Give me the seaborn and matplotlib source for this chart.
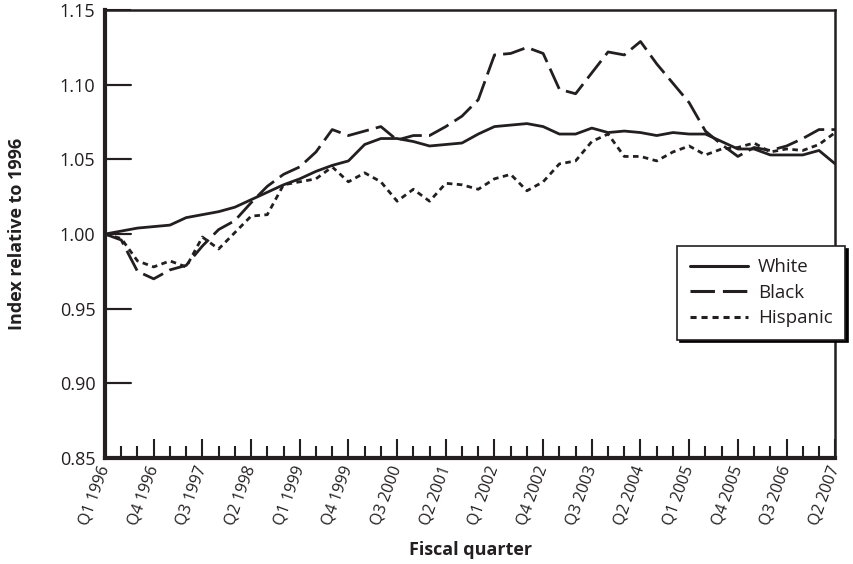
import numpy as np
import pandas as pd
import matplotlib
matplotlib.use("Agg")
import matplotlib.pyplot as plt
from matplotlib.ticker import MultipleLocator, FuncFormatter
import seaborn as sns

# index values per fiscal quarter, Q1 1996 .. Q2 2007
white = [1.000, 1.002, 1.004, 1.005, 1.006, 1.011, 1.013, 1.015, 1.018, 1.023,
         1.028, 1.033, 1.037, 1.042, 1.046, 1.049, 1.060, 1.064, 1.064, 1.062,
         1.059, 1.060, 1.061, 1.067, 1.072, 1.073, 1.074, 1.072, 1.067, 1.067,
         1.071, 1.068, 1.069, 1.068, 1.066, 1.068, 1.067, 1.067, 1.062, 1.057,
         1.057, 1.053, 1.053, 1.053, 1.056, 1.047]
black = [1.000, 0.996, 0.975, 0.970, 0.976, 0.979, 0.992, 1.003, 1.009, 1.021,
         1.032, 1.040, 1.045, 1.055, 1.070, 1.066, 1.069, 1.072, 1.063, 1.066,
         1.066, 1.072, 1.079, 1.090, 1.120, 1.121, 1.125, 1.121, 1.097, 1.094,
         1.108, 1.122, 1.120, 1.129, 1.114, 1.101, 1.088, 1.069, 1.060, 1.052,
         1.058, 1.056, 1.059, 1.064, 1.070, 1.070]
hispanic = [1.000, 0.997, 0.982, 0.978, 0.982, 0.978, 0.998, 0.990, 1.001, 1.012,
            1.013, 1.033, 1.035, 1.037, 1.045, 1.035, 1.041, 1.035, 1.022, 1.030,
            1.022, 1.034, 1.033, 1.030, 1.037, 1.040, 1.029, 1.035, 1.047, 1.049,
            1.062, 1.067, 1.052, 1.052, 1.049, 1.055, 1.059, 1.053, 1.057, 1.058,
            1.061, 1.055, 1.057, 1.056, 1.060, 1.068]

groups = ["White", "Black", "Hispanic"]
tick_labels = ["Q1 1996", "Q4 1996", "Q3 1997", "Q2 1998", "Q1 1999", "Q4 1999",
               "Q3 2000", "Q2 2001", "Q1 2002", "Q4 2002", "Q3 2003", "Q2 2004",
               "Q1 2005", "Q4 2005", "Q3 2006", "Q2 2007"]
y_ticks = [0.85, 0.90, 0.95, 1.00, 1.05, 1.10, 1.15]

n = len(white)
quarter = np.arange(n)
df = pd.DataFrame({
    "quarter": np.tile(quarter, 3),
    "value": white + black + hispanic,
    "group": np.repeat(groups, n),
})

sns.set_style("ticks")
plt.rcParams["font.family"] = ["Open Sans", "DejaVu Sans"]

ink = "#231f20"
fig = plt.figure(figsize=(8.54, 5.64), dpi=100)
ax = fig.add_axes([0.123, 0.188, 0.855, 0.794])

dash_styles = {"White": "", "Black": (8, 2.6), "Hispanic": (2, 1.6)}
sns.lineplot(data=df, x="quarter", y="value", style="group", style_order=groups,
             dashes=dash_styles, color=ink, linewidth=2.0, ax=ax)

ax.set_xlim(0, n - 1)
ax.set_ylim(0.85, 1.15)

ax.set_xticks(range(0, n, 3))
ax.set_xticklabels(tick_labels, rotation=70, ha="right", va="center",
                   rotation_mode="anchor", fontsize=11.5, color=ink)
ax.xaxis.set_minor_locator(MultipleLocator(1))
ax.tick_params(axis="x", which="major", direction="in", length=14, width=1.5,
               pad=6, color=ink)
ax.tick_params(axis="x", which="minor", direction="in", length=9, width=1.5,
               color=ink)

ax.set_yticks(y_ticks)
ax.yaxis.set_major_formatter(FuncFormatter(lambda v, p: f"{v:.2f}"))
ax.yaxis.set_tick_params(which="major", left=True, direction="in", length=19,
                         width=1.5, pad=7, labelsize=13, color=ink,
                         labelcolor=ink)
# short inward stubs at each y tick (tick markers alone came out too faint)
for yv in y_ticks[1:-1]:
    ax.axhline(yv, xmin=0, xmax=0.035, color=ink, linewidth=1.5, zorder=1.5)

for side in ["left", "bottom"]:
    ax.spines[side].set_linewidth(3)
for side in ["top", "right"]:
    ax.spines[side].set_linewidth(1.8)
for sp in ax.spines.values():
    sp.set_color(ink)

ax.set_xlabel("Fiscal quarter", fontsize=13, fontweight="bold", color=ink)
ax.set_ylabel("Index relative to 1996", fontsize=13, fontweight="bold", color=ink)
ax.xaxis.set_label_coords(0.5, -0.185)
ax.yaxis.set_label_coords(-0.108, 0.5)

handles, labels = ax.get_legend_handles_labels()
for h in handles:
    h.set_linewidth(2.2)
    h.set_color(ink)
leg = ax.legend(handles, labels, loc="upper left", bbox_to_anchor=(0.784, 0.473),
                borderaxespad=0, fontsize=13.5, handlelength=3.1, handletextpad=0.55,
                borderpad=0.65, labelspacing=0.4, fancybox=False,
                shadow={"color": "black", "alpha": 1.0}, framealpha=1)
leg.get_frame().set_edgecolor(ink)
leg.get_frame().set_linewidth(1.2)
for t in leg.get_texts():
    t.set_color(ink)

fig.savefig("out.png", dpi=100)
